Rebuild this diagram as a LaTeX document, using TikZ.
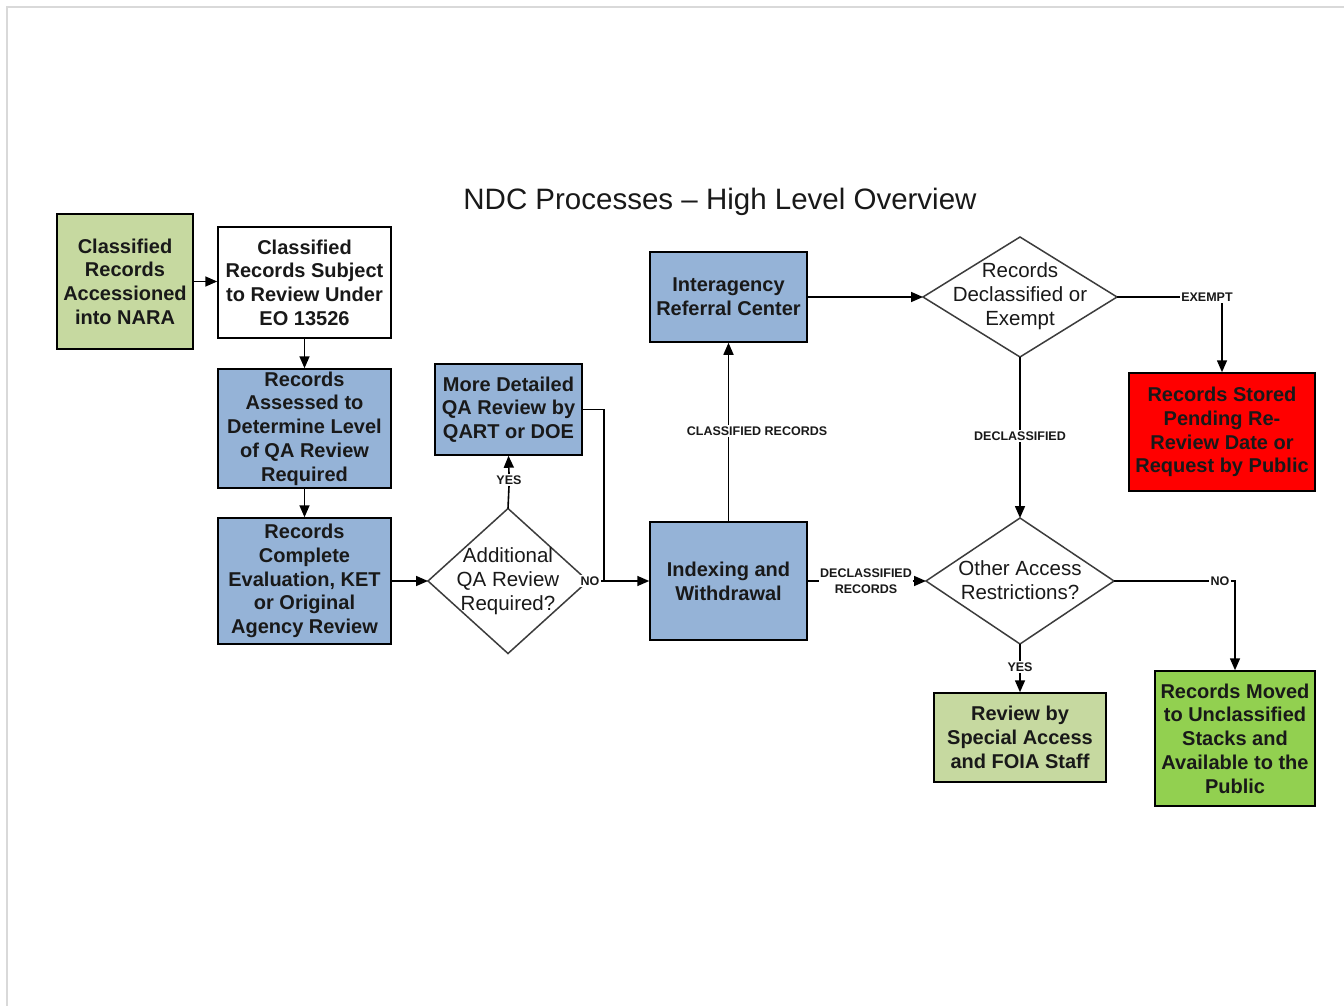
\documentclass[tikz,border=0pt]{standalone}
\usepackage{fontspec}
\setmainfont{Liberation Sans}
\usetikzlibrary{shapes.geometric,arrows.meta}
\definecolor{lgreen}{RGB}{198,217,160}
\definecolor{sblue}{RGB}{149,179,215}
\definecolor{bgreen}{RGB}{146,208,80}
\definecolor{txt}{RGB}{25,25,25}
\definecolor{diag}{RGB}{60,60,60}
\newcommand{\boxfont}{\fontsize{20}{23.7}\selectfont\bfseries}
\newcommand{\diafont}{\fontsize{20.5}{24}\selectfont}
\newcommand{\lblfont}{\fontsize{12.5}{16}\selectfont\bfseries}
\newcommand{\ttlfont}{\fontsize{29.5}{34}\selectfont}
\tikzset{
  box/.style={draw=black, line width=1.5pt, align=center, inner sep=0pt, font=\boxfont, text=txt},
  dia/.style={diamond, draw=diag, line width=1.5pt, inner sep=0pt, outer sep=0pt},
  dtext/.style={align=center, font=\diafont, text=txt},
  lbl/.style={fill=white, inner sep=1.5pt, font=\lblfont, align=center, text=txt},
  arr/.style={-{Triangle[length=12pt,width=10pt]}, line width=1.6pt},
  conn/.style={line width=1.6pt}
}
\begin{document}
\begin{tikzpicture}[x=1pt,y=-1pt]
\useasboundingbox (0,0) rectangle (1344,1006);
\fill[white] (0,0) rectangle (1344,1006);
\draw[gray!30, line width=2pt] (7,1006) -- (7,7) -- (1344,7);

\node[font=\ttlfont, text=txt] (title) at (720,202) {NDC Processes -- High Level Overview};

\node[box, fill=lgreen, minimum width=136pt, minimum height=135pt] (A) at (125,281.5)
  {Classified\\Records\\Accessioned\\into NARA};
\node[box, fill=white, minimum width=173pt, minimum height=111pt] (B) at (304.5,282.5)
  {Classified\\Records Subject\\to Review Under\\EO 13526};
\node[box, fill=sblue, minimum width=173pt, minimum height=119pt] (C) at (304.5,428.5)
  {Records\\Assessed to\\Determine Level\\of QA Review\\Required};
\node[box, fill=sblue, minimum width=173pt, minimum height=126pt] (D) at (304.5,581)
  {Records\\Complete\\Evaluation, KET\\or Original\\Agency Review};
\node[dia, minimum width=160pt, minimum height=145pt] (E) at (508,581) {};
\node[dtext] (Et) at (508,581) {Additional\\QA Review\\Required?};
\node[box, fill=sblue, minimum width=147pt, minimum height=91pt] (F) at (508.5,409.5)
  {More Detailed\\QA Review by\\QART or DOE};
\node[box, fill=sblue, minimum width=157pt, minimum height=118pt] (G) at (728.5,581)
  {Indexing and\\Withdrawal};
\node[box, fill=sblue, minimum width=157pt, minimum height=90pt] (H) at (728.5,297)
  {Interagency\\Referral Center};
\node[dia, minimum width=194pt, minimum height=120pt] (I) at (1020,297) {};
\node[dtext] (It) at (1020,296) {Records\\Declassified or\\Exempt};
\node[box, fill=red, minimum width=186pt, minimum height=118pt] (J) at (1222,432)
  {Records Stored\\Pending Re-\\Review Date or\\Request by Public};
\node[dia, minimum width=188pt, minimum height=126pt] (K) at (1020,581) {};
\node[dtext] (Kt) at (1020,580) {Other Access\\Restrictions?};
\node[box, fill=lgreen, minimum width=172pt, minimum height=89pt] (L) at (1020,737.5)
  {Review by\\Special Access\\and FOIA Staff};
\node[box, fill=bgreen, minimum width=160pt, minimum height=135pt] (M) at (1235,738.5)
  {Records Moved\\to Unclassified\\Stacks and\\Available to the\\Public};

% connector labels
\node[lbl] (lyes1) at (509,480) {YES};
\node[lbl] (lno1) at (590,581) {NO};
\node[lbl] (lcr) at (757,431) {CLASSIFIED RECORDS};
\node[lbl] (lex) at (1207,297) {EXEMPT};
\node[lbl] (ldec) at (1020,436) {DECLASSIFIED};
\node[lbl, inner sep=0.5pt] (ldr) at (866,581) {DECLASSIFIED\\RECORDS};
\node[lbl] (lno2) at (1220,581) {NO};
\node[lbl] (lyes2) at (1020,667) {YES};

\coordinate (jn) at (604,581);

\draw[arr] (A.east) -- (A.east -| B.west);
\draw[arr] (B.south) -- (C.north);
\draw[arr] (C.south) -- (D.north);
\draw[arr] (D.east) -- (E.west);
\draw[conn] (E.north) -- (lyes1.south);
\draw[arr] (lyes1.north) -- (F.south);
\draw[conn] (F.east) -| (jn);
\draw[arr] (lno1.east) -- (G.west);
\draw[conn] (G.north) -- (lcr.south -| G.north);
\draw[arr] (lcr.north -| G.north) -- (H.south);
\draw[arr] (H.east) -- (I.west);
\draw[conn] (I.east) -- (lex.west);
\draw[arr] (lex.south -| J.north) -- (J.north);
\draw[conn] (I.south) -- (ldec.north);
\draw[arr] (ldec.south) -- (K.north);
\draw[conn] (G.east) -- (ldr.west);
\draw[arr] (ldr.east) -- (K.west);
\draw[conn] (K.east) -- (lno2.west);
\draw[arr] (lno2.east) -| (M.north);
\draw[conn] (K.south) -- (lyes2.north);
\draw[arr] (lyes2.south) -- (L.north);
\end{tikzpicture}
\end{document}
